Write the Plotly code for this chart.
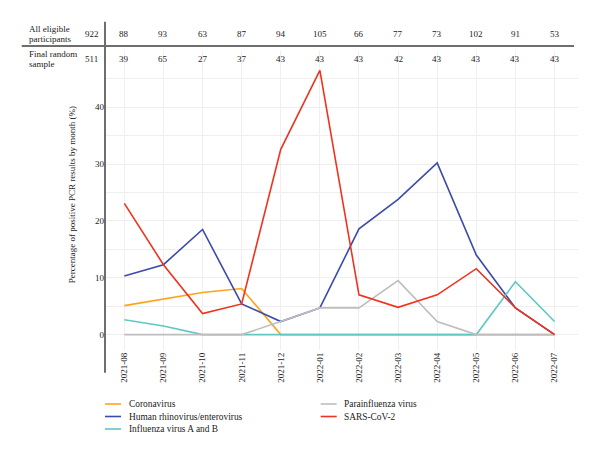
import plotly.graph_objects as go

months = ['2021-08', '2021-09', '2021-10', '2021-11', '2021-12', '2022-01',
          '2022-02', '2022-03', '2022-04', '2022-05', '2022-06', '2022-07']
all_eligible = [88, 93, 63, 87, 94, 105, 66, 77, 73, 102, 91, 53]
all_eligible_total = 922
final_sample = [39, 65, 27, 37, 43, 43, 43, 42, 43, 43, 43, 43]
final_sample_total = 511

coronavirus = [5.1, 6.2, 7.4, 8.1, 0, 0, 0, 0, 0, 0, 0, 0]
rhino_entero = [10.3, 12.3, 18.5, 5.4, 2.3, 4.7, 18.6, 23.8, 30.2, 14.0, 4.7, 0]
influenza = [2.6, 1.5, 0, 0, 0, 0, 0, 0, 0, 0, 9.3, 2.3]
parainfluenza = [0, 0, 0, 0, 2.3, 4.7, 4.7, 9.5, 2.3, 0, 0, 0]
sars_cov2 = [23.1, 12.3, 3.7, 5.4, 32.6, 46.5, 7.0, 4.8, 7.0, 11.6, 4.7, 0]

FONT = "Liberation Serif"
TXT = "#222222"

# plot area geometry (px): left 105, right 578, top 51, bottom 350
L, R, T, B = 105, 578, 51, 350
W, H = R - L, B - T


def px(xp):
    return (xp - L) / W


def py(yp):
    return (B - yp) / H


series = [
    ("Coronavirus", coronavirus, "#FFA31A"),
    ("Human rhinovirus/enterovirus", rhino_entero, "#3C4BAA"),
    ("Influenza virus A and B", influenza, "#5FC8C3"),
    ("Parainfluenza virus", parainfluenza, "#BEBEBE"),
    ("SARS-CoV-2", sars_cov2, "#F0321E"),
]
# legend placement (column x of swatch start, row y)
legend_pos = {
    "Coronavirus": (105, 404),
    "Human rhinovirus/enterovirus": (105, 416.5),
    "Influenza virus A and B": (105, 429),
    "Parainfluenza virus": (320.7, 404),
    "SARS-CoV-2": (320.7, 416.5),
}

fig = go.Figure()
for name, vals, color in series:
    fig.add_trace(go.Scatter(x=months, y=vals, mode="lines", name=name,
                             line=dict(color=color, width=1.6), showlegend=False))

ann = []
shapes = []


def txt(x, y, s, xanchor="left", size=9, **kw):
    d = dict(x=x, y=y, xref="paper", yref="paper", xanchor=xanchor, yanchor="middle",
             text=s, showarrow=False, font=dict(family=FONT, size=size, color=TXT))
    d.update(kw)
    return d


# header row labels
ann.append(txt(px(26.7), py(29), "All eligible"))
ann.append(txt(px(26.7), py(39.5), "participants"))
ann.append(txt(px(26.7), py(53.5), "Final random"))
ann.append(txt(px(26.7), py(64), "sample"))
ann.append(txt(px(91.7), py(34), str(all_eligible_total), xanchor="center"))
ann.append(txt(px(91.7), py(59), str(final_sample_total), xanchor="center"))
for m, a, f in zip(months, all_eligible, final_sample):
    ann.append(dict(x=m, y=py(34), xref="x", yref="paper", xanchor="center", yanchor="middle",
                    text=str(a), showarrow=False, font=dict(family=FONT, size=9, color=TXT)))
    ann.append(dict(x=m, y=py(59), xref="x", yref="paper", xanchor="center", yanchor="middle",
                    text=str(f), showarrow=False, font=dict(family=FONT, size=9, color=TXT)))
# y-axis title
ann.append(txt(px(72.3), py(195), "Percentage of positive PCR results by month (%)",
               xanchor="center", textangle=-90))

# legend
for name, vals, color in series:
    lx, ly = legend_pos[name]
    shapes.append(dict(type="line", xref="paper", yref="paper", x0=px(lx), x1=px(lx + 16),
                       y0=py(ly), y1=py(ly), line=dict(color=color, width=1.6)))
    ann.append(txt(px(lx + 21.7), py(ly), name, size=9.4))

shapes += [
    dict(type="line", xref="paper", yref="paper", x0=0, x1=0, y0=py(21.7), y1=py(372.7),
         line=dict(color="#6E6E6E", width=2)),
    dict(type="line", xref="paper", yref="paper", x0=px(21.7), x1=px(574), y0=py(46), y1=py(46),
         line=dict(color="#6E6E6E", width=2)),
]

fig.update_layout(
    width=600, height=453,
    margin=dict(l=L, r=600 - R, t=T, b=453 - B, pad=0),
    paper_bgcolor="white", plot_bgcolor="white",
    font=dict(family=FONT, size=9, color=TXT),
    annotations=ann, shapes=shapes,
    showlegend=False,
    xaxis=dict(type="category", range=[-0.494, 11.60], tickangle=-90, showgrid=True,
               gridcolor="#EFEFEF", gridwidth=1, showline=False, zeroline=False, ticks="",
               tickfont=dict(family=FONT, size=9, color=TXT)),
    yaxis=dict(range=[-2.71, 49.9], tickvals=[0, 10, 20, 30, 40], showgrid=True, gridcolor="#EFEFEF",
               gridwidth=1, zeroline=False, showline=False, ticks="",
               minor=dict(dtick=5, showgrid=True, gridcolor="#EFEFEF", gridwidth=1),
               tickfont=dict(family=FONT, size=9, color=TXT)),
)

fig.write_html("out.html")
